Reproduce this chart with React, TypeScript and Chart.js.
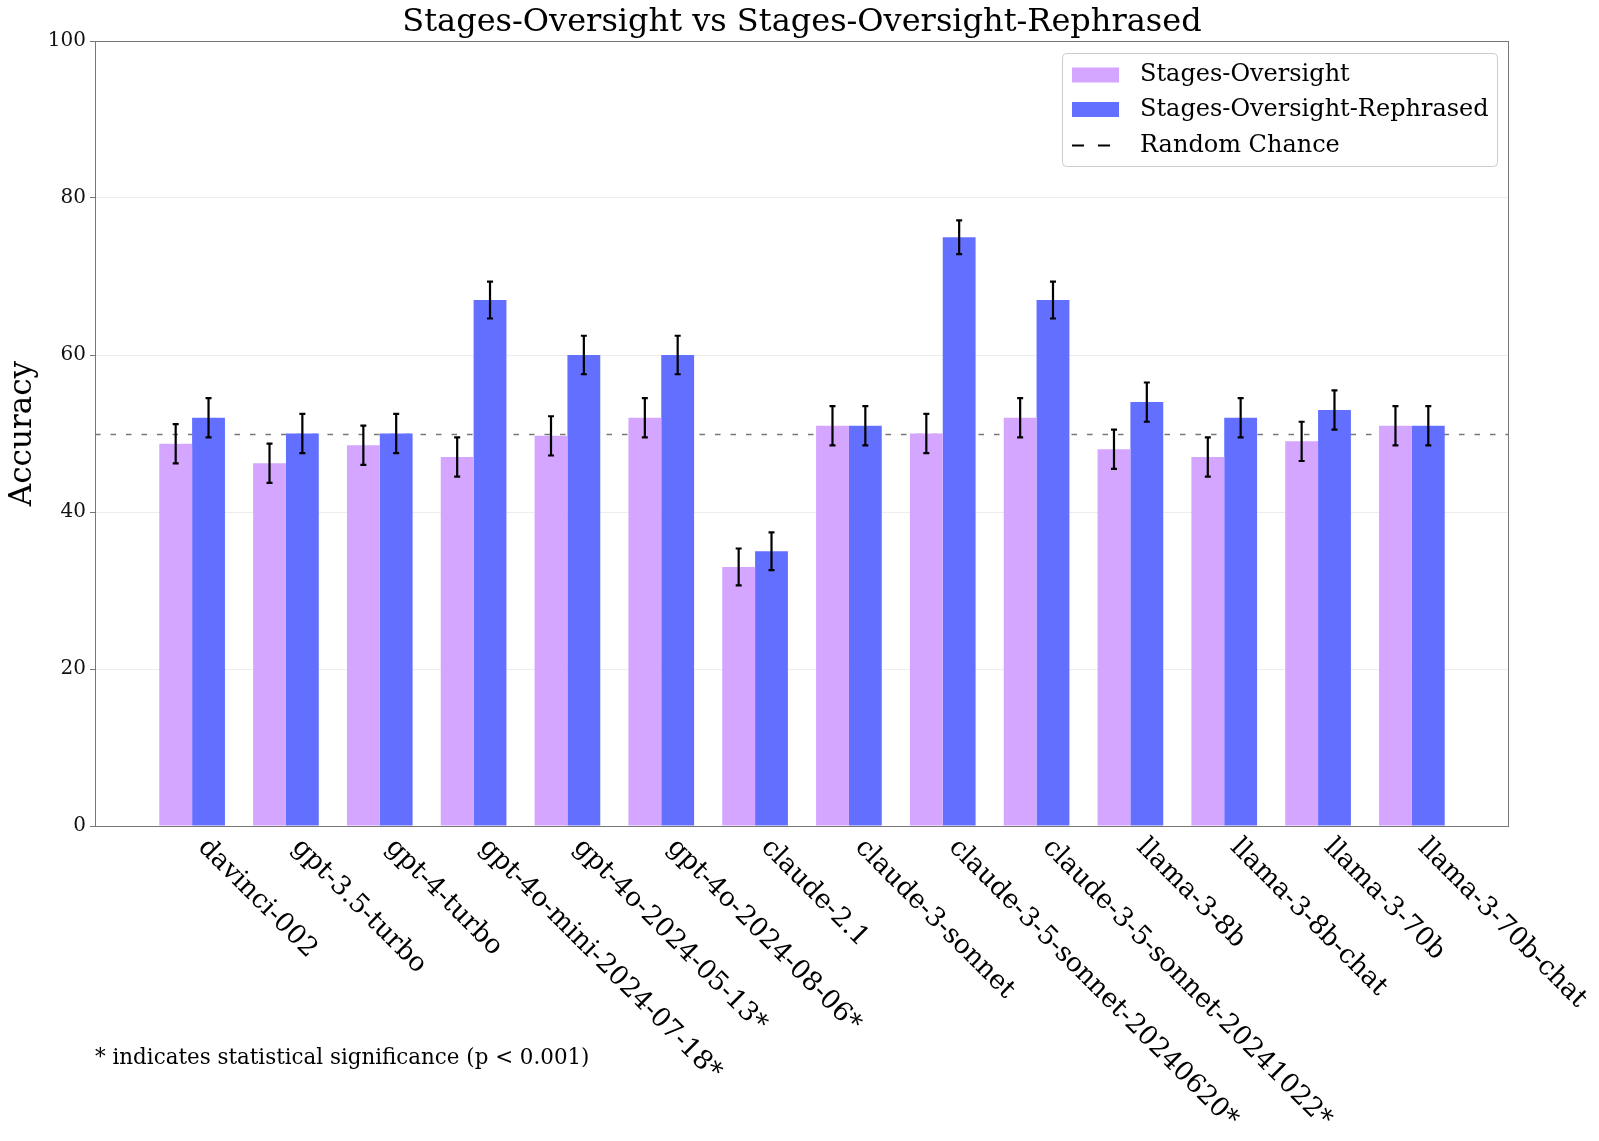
import React, { useEffect, useRef } from "react";
import { Chart, registerables } from "chart.js";

Chart.register(...registerables);

const labels: string[] = [
  "davinci-002",
  "gpt-3.5-turbo",
  "gpt-4-turbo",
  "gpt-4o-mini-2024-07-18*",
  "gpt-4o-2024-05-13*",
  "gpt-4o-2024-08-06*",
  "claude-2.1",
  "claude-3-sonnet",
  "claude-3-5-sonnet-20240620*",
  "claude-3-5-sonnet-20241022*",
  "llama-3-8b",
  "llama-3-8b-chat",
  "llama-3-70b",
  "llama-3-70b-chat",
];

const stagesOversight: number[] = [48.7, 46.2, 48.5, 47.0, 49.7, 52.0, 33.0, 51.0, 50.0, 52.0, 48.0, 47.0, 49.0, 51.0];
const stagesOversightRephrased: number[] = [52.0, 50.0, 50.0, 67.0, 60.0, 60.0, 35.0, 51.0, 75.0, 67.0, 54.0, 52.0, 53.0, 51.0];
const stagesOversightErr: number[] = [2.5, 2.5, 2.5, 2.5, 2.5, 2.5, 2.35, 2.5, 2.5, 2.5, 2.5, 2.5, 2.5, 2.5];
const stagesOversightRephrasedErr: number[] = [2.5, 2.5, 2.5, 2.35, 2.45, 2.45, 2.4, 2.5, 2.15, 2.35, 2.5, 2.5, 2.5, 2.5];
const randomChance = 50;
const yTicks: number[] = [0, 20, 40, 60, 80, 100];

const seriesNames = ["Stages-Oversight", "Stages-Oversight-Rephrased"];
const titleText = "Stages-Oversight vs Stages-Oversight-Rephrased";
const yTitle = "Accuracy";
const footnote = "* indicates statistical significance (p < 0.001)";
const randomLabel = "Random Chance";

const W = 1599;
const H = 1141;
const PLOT_LEFT = 95;
const PLOT_RIGHT = 1509;
const PLOT_TOP = 41;
const PLOT_BOTTOM = 826;
const FONT = "'DejaVu Serif', serif";
const PINK = "rgb(212,166,255)";
const BLUE = "rgb(99,112,255)";

export default function App() {
  const ref = useRef<HTMLCanvasElement | null>(null);

  useEffect(() => {
    document.body.style.margin = "0";
    const canvas = ref.current;
    if (!canvas) return;

    const errs = [stagesOversightErr, stagesOversightRephrasedErr];

    const decor = {
      id: "decor",
      beforeDraw(chart: any) {
        const ctx = chart.ctx;
        ctx.save();
        ctx.fillStyle = "#fff";
        ctx.fillRect(0, 0, chart.width, chart.height);
        ctx.restore();
      },
      beforeDatasetsDraw(chart: any) {
        const ctx = chart.ctx;
        const ca = chart.chartArea;
        const y = Math.round(chart.scales.y.getPixelForValue(randomChance)) + 0.5;
        ctx.save();
        ctx.strokeStyle = "#777";
        ctx.lineWidth = 1.3;
        ctx.setLineDash([5.5, 10]);
        ctx.beginPath();
        ctx.moveTo(ca.left, y);
        ctx.lineTo(ca.right, y);
        ctx.stroke();
        ctx.restore();
      },
      afterDatasetsDraw(chart: any) {
        const ctx = chart.ctx;
        const ca = chart.chartArea;
        const ys = chart.scales.y;
        const xs = chart.scales.x;
        ctx.save();
        // error bars
        ctx.strokeStyle = "#000";
        ctx.lineWidth = 2.2;
        chart.data.datasets.forEach((ds: any, di: number) => {
          const meta = chart.getDatasetMeta(di);
          meta.data.forEach((bar: any, i: number) => {
            const v = ds.data[i].y;
            const e = errs[di][i];
            const x = bar.x;
            const y1 = ys.getPixelForValue(v - e);
            const y2 = ys.getPixelForValue(v + e);
            ctx.beginPath();
            ctx.moveTo(x, y1);
            ctx.lineTo(x, y2);
            ctx.moveTo(x - 3, y1);
            ctx.lineTo(x + 3, y1);
            ctx.moveTo(x - 3, y2);
            ctx.lineTo(x + 3, y2);
            ctx.stroke();
          });
        });
        // spines
        ctx.strokeStyle = "#777";
        ctx.lineWidth = 1;
        ctx.strokeRect(ca.left + 0.5, ca.top + 0.5, ca.right - ca.left - 1, ca.bottom - ca.top);

        // title
        ctx.fillStyle = "#000";
        ctx.font = `32px ${FONT}`;
        ctx.textAlign = "center";
        ctx.textBaseline = "middle";
        ctx.fillText(titleText, (ca.left + ca.right) / 2, 22.5);

        // y title
        ctx.save();
        ctx.translate(23, (ca.top + ca.bottom) / 2);
        ctx.rotate(-Math.PI / 2);
        ctx.font = `31px ${FONT}`;
        ctx.textAlign = "center";
        ctx.textBaseline = "middle";
        ctx.fillText(yTitle, 0, 0);
        ctx.restore();

        // x labels
        ctx.font = `26.5px ${FONT}`;
        ctx.textAlign = "left";
        ctx.textBaseline = "top";
        labels.forEach((lab, i) => {
          const px = xs.getPixelForValue(i);
          ctx.save();
          ctx.translate(px + 19.5, ca.bottom + 8);
          ctx.rotate(Math.PI / 4);
          ctx.fillText(lab, 0, 0);
          ctx.restore();
        });

        // footnote
        ctx.font = `21.4px ${FONT}`;
        ctx.textAlign = "left";
        ctx.textBaseline = "middle";
        ctx.fillText(footnote, 95, 1058);

        // legend
        const lx = 1062, ly = 53, lw = 435, lh = 113;
        ctx.fillStyle = "rgba(255,255,255,0.85)";
        ctx.strokeStyle = "#ccc";
        ctx.lineWidth = 1;
        ctx.beginPath();
        (ctx as any).roundRect(lx + 0.5, ly + 0.5, lw, lh, 4);
        ctx.fill();
        ctx.stroke();
        const rows = [75, 109.5, 145.5];
        ctx.fillStyle = PINK;
        ctx.fillRect(1072, rows[0] - 7.5, 47, 15);
        ctx.fillStyle = BLUE;
        ctx.fillRect(1072, rows[1] - 7.5, 47, 15);
        ctx.strokeStyle = "#000";
        ctx.lineWidth = 2;
        ctx.beginPath();
        ctx.moveTo(1072, rows[2]);
        ctx.lineTo(1084, rows[2]);
        ctx.moveTo(1098, rows[2]);
        ctx.lineTo(1110, rows[2]);
        ctx.stroke();
        ctx.fillStyle = "#000";
        ctx.font = `24px ${FONT}`;
        ctx.textAlign = "left";
        ctx.textBaseline = "middle";
        ctx.fillText(seriesNames[0], 1140, rows[0]);
        ctx.fillText(seriesNames[1], 1140, rows[1]);
        ctx.fillText(randomLabel, 1140, rows[2]);
        ctx.restore();
      },
    };

    const chart = new Chart(canvas, {
      type: "bar",
      data: {
        datasets: [
          {
            label: seriesNames[0],
            data: stagesOversight.map((v, i) => ({ x: i, y: v })),
            backgroundColor: PINK,
            borderWidth: 0,
          },
          {
            label: seriesNames[1],
            data: stagesOversightRephrased.map((v, i) => ({ x: i, y: v })),
            backgroundColor: BLUE,
            borderWidth: 0,
          },
        ],
      },
      options: {
        responsive: false,
        animation: false,
        devicePixelRatio: 1,
        layout: { padding: { top: PLOT_TOP, right: W - PLOT_RIGHT, left: 0, bottom: 0 } },
        datasets: { bar: { categoryPercentage: 0.7, barPercentage: 1.0 } },
        plugins: { legend: { display: false }, title: { display: false }, tooltip: { enabled: false } },
        scales: {
          x: {
            type: "linear",
            min: -1.035,
            max: 14.035,
            offset: false,
            grid: { display: false },
            border: { display: false },
            ticks: { display: false },
            afterBuildTicks: (s: any) => {
              s.ticks = labels.map((_, i) => ({ value: i }));
            },
            afterFit: (s: any) => {
              s.height = H - PLOT_BOTTOM;
            },
          },
          y: {
            min: 0,
            max: 100,
            afterBuildTicks: (s: any) => {
              s.ticks = yTicks.map((v) => ({ value: v }));
            },
            ticks: {
              font: { family: FONT, size: 20 },
              color: "#111",
              padding: 4,
            },
            grid: {
              color: "rgba(0,0,0,0.07)",
              tickColor: "#777",
              tickLength: 5,
              drawOnChartArea: true,
            },
            border: { display: false },
            afterFit: (s: any) => {
              s.width = PLOT_LEFT;
            },
          },
        },
      },
      plugins: [decor],
    } as any);

    return () => chart.destroy();
  }, []);

  return (
    <div style={{ width: W, height: H, overflow: "hidden" }}>
      <canvas ref={ref} width={W} height={H} style={{ display: "block", width: W, height: H }} />
    </div>
  );
}
